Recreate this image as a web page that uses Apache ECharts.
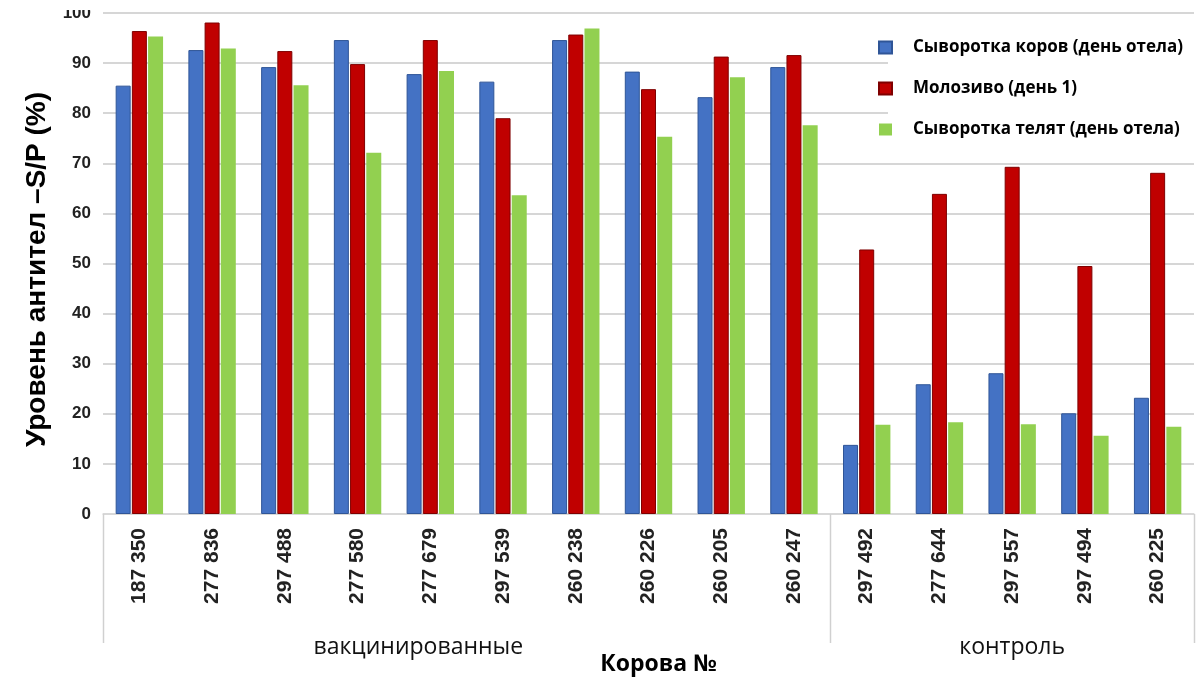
<!DOCTYPE html>
<html>
<head>
<meta charset="utf-8">
<script src="https://cdn.jsdelivr.net/npm/echarts@6/dist/echarts.min.js"></script>
<style>
html,body{margin:0;padding:0;background:#fff;}
#main{width:1196px;height:677px;}
</style>
</head>
<body>
<div id="main"></div>
<script>
// ---- data ----
const cows = ['187 350','277 836','297 488','277 580','277 679','297 539','260 238','260 226','260 205','260 247',
              '297 492','277 644','297 557','297 494','260 225'];
const groupNames = ['вакцинированные','контроль'];
const groupSizes = [10, 5];
const seriesNames = ['Сыворотка коров (день отела)','Молозиво (день 1)','Сыворотка телят (день отела)'];
const cowSerum    = [85.5, 92.6, 89.2, 94.6, 87.8, 86.3, 94.6, 88.3, 83.2, 89.2, 13.8, 25.9, 28.1, 20.1, 23.2];
const colostrum   = [96.4, 98.1, 92.4, 89.8, 94.6, 79.0, 95.7, 84.8, 91.3, 91.6, 52.8, 63.9, 69.3, 49.5, 68.1];
const calfSerum   = [95.3, 92.9, 85.6, 72.1, 88.4, 63.6, 96.9, 75.3, 87.2, 77.6, 17.8, 18.3, 17.9, 15.6, 17.4];
const yTicks = {min: 0, max: 100, interval: 10};

const chart = echarts.init(document.getElementById('main'), null, {renderer: 'canvas'});
const colors = ['#4472C4', '#C00000', '#92D050'];
const borders = ['#2F5597', '#7F0000', '#92D050'];
const values = [cowSerum, colostrum, calfSerum];

// group label positions: label shown at the category index in each group's middle
const groupLabelIdx = {};
(function(){
  let start = 0;
  groupSizes.forEach((n, g) => {
    const mid = start + Math.floor((n - 1) / 2);
    groupLabelIdx[mid] = g;
    start += n;
  });
})();

const option = {
  backgroundColor: '#fff',
  animation: false,
  grid: {left: 103, right: 2, top: 13, bottom: 163, containLabel: false, outerBoundsMode: 'none'},
  legend: {
    orient: 'vertical',
    left: 873,
    top: 34,
    itemWidth: 13,
    itemHeight: 12,
    itemGap: 24,
    icon: 'rect',
    textStyle: {fontFamily: 'Open Sans', fontWeight: 'bold', fontSize: 17, color: '#000', padding: [0, 0, 0, 16]},
    data: seriesNames
  },
  xAxis: [{
    type: 'category',
    data: cows,
    axisLine: {lineStyle: {color: '#d9d9d9', width: 1.5}},
    axisTick: {show: false},
    axisLabel: {interval: 0, rotate: 90, margin: 14, fontFamily: 'Liberation Sans', fontWeight: 'bold', fontSize: 21, color: '#222'},
    name: 'Корова №',
    nameLocation: 'middle',
    nameGap: 139,
    nameTextStyle: {fontFamily: 'Open Sans', fontWeight: 'bold', fontSize: 23, color: '#000', padding: [0, 0, 0, 20]}
  }, {
    type: 'category',
    data: cows,
    position: 'bottom',
    axisLine: {show: false},
    axisTick: {show: false},
    axisLabel: {
      interval: 0, margin: 122,
      fontFamily: 'Open Sans', fontSize: 23, color: '#111',
      formatter: function (v, i) { const g = groupLabelIdx[i]; return g === undefined ? '' : '{g' + g + '|' + groupNames[g] + '}'; },
      rich: {
        g0: {fontFamily: 'Open Sans', fontSize: 23, color: '#111', padding: [0, 24, 0, 0]},
        g1: {fontFamily: 'Open Sans', fontSize: 23, color: '#111'}
      }
    }
  }],
  yAxis: {
    type: 'value',
    min: yTicks.min, max: yTicks.max, interval: yTicks.interval,
    axisLine: {show: false},
    axisTick: {show: false},
    splitLine: {lineStyle: {color: '#d6d6d6', width: 2}},
    axisLabel: {margin: 12, fontFamily: 'Liberation Sans', fontWeight: 'bold', fontSize: 17, color: '#222'},
    name: 'Уровень антител –S/P (%)',
    nameLocation: 'middle',
    nameGap: 50,
    nameTextStyle: {fontFamily: 'Liberation Sans', fontWeight: 'bold', fontSize: 28, color: '#000', padding: [0, 12, 0, 0]}
  },
  series: seriesNames.map((n, k) => ({
    name: n,
    type: 'bar',
    xAxisIndex: 0,
    data: values[k],
    barWidth: 15,
    barGap: '8%',
    itemStyle: {color: colors[k], borderColor: borders[k], borderWidth: k === 2 ? 0 : 1}
  }))
};
chart.setOption(option);

// group separators derived from the category scale
function drawGraphics() {
  const c0 = chart.convertToPixel({xAxisIndex: 0}, cows[0]);
  const c1 = chart.convertToPixel({xAxisIndex: 0}, cows[1]);
  const band = c1 - c0;
  const y0 = chart.convertToPixel({yAxisIndex: 0}, 0);
  const elems = [];
  let start = 0;
  const bounds = [0];
  groupSizes.forEach(n => { start += n; bounds.push(start); });
  bounds.forEach(b => {
    const x = Math.round(c0 + band * (b - 0.5)) + 0.5;
    elems.push({type: 'line', shape: {x1: x, y1: y0, x2: x, y2: y0 + 129}, style: {stroke: '#d0d0d0', lineWidth: 1.5}, z: 5});
  });
  // white background behind legend text
  elems.push({type: 'rect', shape: {x: 888, y: 22, width: 310, height: 126}, style: {fill: '#fff'}, z: 1});
  // top edge crop, as in the reference
  elems.push({type: 'rect', shape: {x: 0, y: 0, width: 1196, height: 10}, style: {fill: '#fff'}, z: 100});
  chart.setOption({graphic: {elements: elems}});
}
drawGraphics();
</script>
</body>
</html>
